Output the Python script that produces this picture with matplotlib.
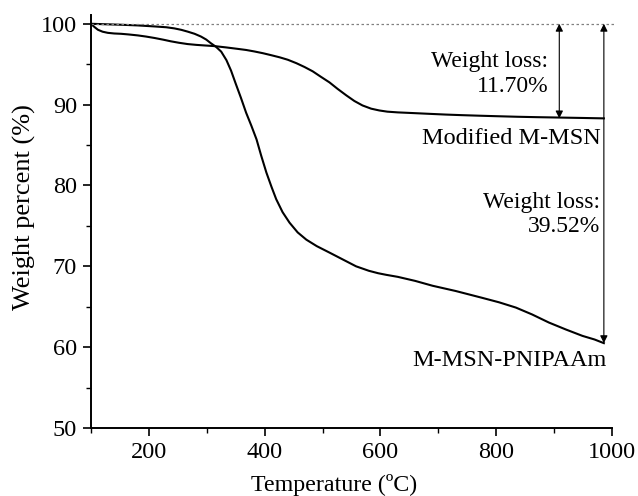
import matplotlib
matplotlib.use("Agg")
import matplotlib.pyplot as plt
from matplotlib.ticker import MultipleLocator

plt.rcParams['font.family'] = ['Liberation Serif', 'DejaVu Serif']

# Modified M-MSN curve
t_mod = [100, 106, 112, 120, 129, 140, 152, 165, 181, 195, 210, 225, 238, 252, 267, 282,
         296, 313, 333, 353, 368, 382, 397, 411, 426, 440, 455, 469, 483, 497, 512, 526,
         541, 555, 569, 584, 598, 612, 630, 655, 685, 713, 740, 771, 800, 836, 870, 910,
         950, 986]
w_mod = [100, 99.6, 99.26, 99.02, 98.88, 98.8, 98.76, 98.68, 98.56, 98.42, 98.24, 98.03,
         97.83, 97.65, 97.49, 97.39, 97.32, 97.24, 97.08, 96.9, 96.76, 96.58, 96.36, 96.12,
         95.85, 95.55, 95.12, 94.65, 94.12, 93.45, 92.75, 91.95, 91.15, 90.45, 89.9, 89.5,
         89.28, 89.13, 89.04, 88.96, 88.86, 88.77, 88.7, 88.63, 88.57, 88.5, 88.45, 88.4,
         88.35, 88.3]

# M-MSN-PNIPAAm curve
t_pn = [100, 125, 152, 180, 210, 230, 244, 256, 267, 279, 290, 299, 307, 316, 325, 334,
        342, 350, 359, 368, 377, 386, 394, 403, 412, 420, 431, 443, 457, 472, 490, 512,
        535, 558, 580, 596, 610, 630, 660, 690, 730, 776, 805, 834, 862, 891, 920, 949,
        970, 986]
w_pn = [100, 99.94, 99.88, 99.8, 99.67, 99.57, 99.43, 99.25, 99.03, 98.76, 98.42, 98.05,
        97.6, 97.15, 96.55, 95.5, 94.2, 92.6, 90.85, 89.0, 87.4, 85.7, 83.7, 81.6, 79.8,
        78.3, 76.7, 75.4, 74.2, 73.3, 72.5, 71.7, 70.85, 70.0, 69.45, 69.15, 68.95, 68.7,
        68.2, 67.6, 66.95, 66.1, 65.55, 64.9, 64.05, 63.05, 62.2, 61.4, 60.95, 60.5]

loss_mod = "11.70%"
loss_pn = "39.52%"

fig = plt.figure(figsize=(6.38, 4.96), dpi=100)
ax = fig.add_axes([0.1426, 0.137, 0.8166, 0.833])

ax.plot(t_mod, w_mod, color='black', lw=1.5)
ax.plot(t_pn, w_pn, color='black', lw=1.5)

# reference line at 100 %
ax.plot([100, 1005], [100, 100], color='gray', lw=0.9, ls=(0, (2, 2)), clip_on=False)

# weight loss arrows
ax.annotate('', xy=(909, 100), xytext=(909, 88.3),
            arrowprops=dict(arrowstyle='<|-|>', color='black', lw=0.8,
                            mutation_scale=11, shrinkA=0, shrinkB=0))
ax.annotate('', xy=(986, 100), xytext=(986, 60.5),
            arrowprops=dict(arrowstyle='<|-|>', color='black', lw=0.8,
                            mutation_scale=11, shrinkA=0, shrinkB=0))

fs = 17
ax.text(890, 93.8, "Weight loss:\n" + loss_mod, ha='right', va='center', fontsize=fs)
ax.text(981, 85.8, "Modified M-MSN", ha='right', va='center', fontsize=17.5)
ax.text(979, 76.4, "Weight loss:\n" + loss_pn, ha='right', va='center', fontsize=fs)
ax.text(990, 58.4, "M-MSN-PNIPAAm", ha='right', va='center', fontsize=17.5)

ax.set_xlim(100, 1000)
ax.set_ylim(50, 101.1)
ax.xaxis.set_minor_locator(MultipleLocator(100))
ax.yaxis.set_minor_locator(MultipleLocator(5))
ax.set_yticks([50, 60, 70, 80, 90, 100])
ax.set_xticks([200, 400, 600, 800, 1000])

for s in ['top', 'right']:
    ax.spines[s].set_visible(False)
for s in ['left', 'bottom']:
    ax.spines[s].set_linewidth(1.4)

ax.tick_params(which='major', direction='out', length=6, width=1.2, labelsize=17.5, pad=4)
ax.tick_params(which='minor', direction='out', length=3.5, width=1.0)

ax.set_xlabel("Temperature (ºC)", fontsize=17.3, va='center')
ax.xaxis.set_label_coords(0.466, -0.138)
ax.set_ylabel("Weight percent (%)", fontsize=19, va='center')
ax.yaxis.set_label_coords(-0.127, 0.535)

fig.savefig("out.png", dpi=100)
